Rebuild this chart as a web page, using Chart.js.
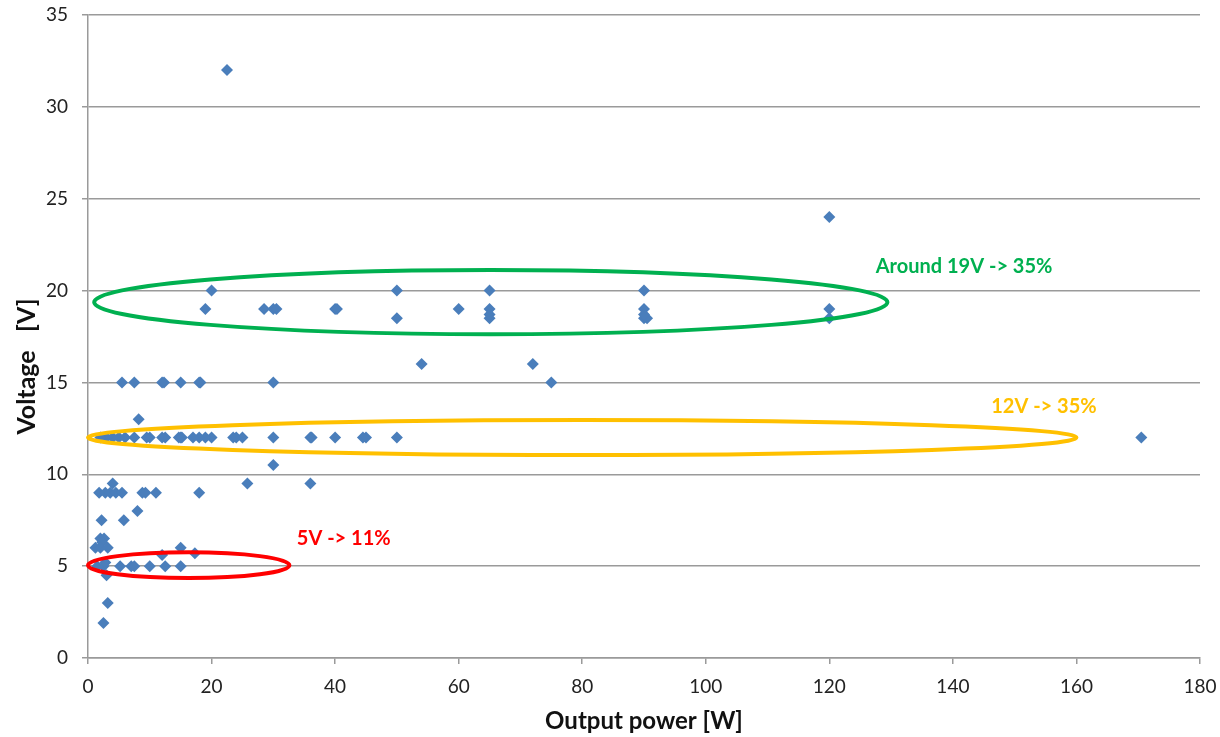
<!DOCTYPE html>
<html>
<head>
<meta charset="utf-8">
<script src="https://cdn.jsdelivr.net/npm/chart.js@4/dist/chart.umd.min.js"></script>
<style>
  html, body { margin: 0; padding: 0; background: #fff; }
  #wrap { width: 1220px; height: 737px; }
</style>
</head>
<body>
<div id="wrap"><canvas id="myChart" width="1220" height="737"></canvas></div>
<script>
// # Data: output power [W] and voltage [V]
const power = [
  22.5, 120, 170.5,
  20, 50, 65, 90,
  19, 28.5, 30, 30.5, 40, 40.3, 60, 65, 90, 120,
  50, 65, 65, 90, 90.5, 90, 120,
  54, 72,
  75, 5.5, 7.5, 12, 12.3, 15, 18, 18.2, 30,
  8.2,
  50, 45, 44.5, 40, 36, 36.2, 30, 25, 24, 23.5, 20, 19, 18, 17, 15, 14.7, 15.2, 12.5, 12, 10, 9.5, 7.5, 6, 5, 4, 3, 2,
  30,
  25.8, 36, 4,
  1.8, 2.8, 3.6, 4.5, 5.5, 8.8, 9.3, 11, 18,
  8,
  2.2, 5.8,
  2, 2.6, 2.3,
  1.2, 2, 3.2, 15,
  12, 17.3,
  1.5, 2.5, 5.2, 7, 7.5, 10, 12.5, 15, 2.8,
  3, 3.2, 2.5
];
const voltage = [
  32, 24, 12,
  20, 20, 20, 20,
  19, 19, 19, 19, 19, 19, 19, 19, 19, 19,
  18.5, 18.5, 18.7, 18.5, 18.5, 18.7, 18.5,
  16, 16,
  15, 15, 15, 15, 15, 15, 15, 15, 15,
  13,
  12, 12, 12, 12, 12, 12, 12, 12, 12, 12, 12, 12, 12, 12, 12, 12, 12, 12, 12, 12, 12, 12, 12, 12, 12, 12, 12,
  10.5,
  9.5, 9.5, 9.5,
  9, 9, 9, 9, 9, 9, 9, 9, 9,
  8,
  7.5, 7.5,
  6.5, 6.5, 6.3,
  6, 6, 6, 6,
  5.6, 5.7,
  5, 5, 5, 5, 5, 5, 5, 5, 5.2,
  4.5, 3, 1.9
];

// # Highlighted groups (ellipse in data units) and their labels
const groupLabels = ["Around 19V -> 35%", "12V -> 35%", "5V -> 11%"];
const groupColors = ["#00B050", "#FFC000", "#FF0000"];
const groupEllipses = [
  { cx: 65.2, cy: 19.37, rx: 64.2, ry: 1.75 },
  { cx: 80, cy: 12.0, rx: 80, ry: 0.95 },
  { cx: 16.3, cy: 5.05, rx: 16.3, ry: 0.7 }
];
const groupTextAt = [
  { x: 127.5, y: 21.3 },
  { x: 146.2, y: 13.7 },
  { x: 33.8, y: 6.5 }
];

const yTitle = "Voltage   [V]";

const points = power.map((p, i) => ({ x: p, y: voltage[i] }));

// # Draw the ellipses and the percentages on top of the points
const groupsPlugin = {
  id: "groups",
  afterDatasetsDraw(chart) {
    const ctx = chart.ctx;
    const xs = chart.scales.x;
    const ys = chart.scales.y;
    ctx.save();
    groupEllipses.forEach((e, i) => {
      const cx = xs.getPixelForValue(e.cx);
      const cy = ys.getPixelForValue(e.cy);
      const rx = Math.abs(xs.getPixelForValue(e.cx + e.rx) - cx);
      const ry = Math.abs(ys.getPixelForValue(e.cy + e.ry) - cy);
      ctx.beginPath();
      ctx.ellipse(cx, cy, rx, ry, 0, 0, Math.PI * 2);
      ctx.strokeStyle = groupColors[i];
      ctx.lineWidth = 4;
      ctx.stroke();

      ctx.fillStyle = groupColors[i];
      ctx.font = "bold 20px Lato, 'Open Sans', sans-serif";
      ctx.textBaseline = "middle";
      ctx.textAlign = "left";
      ctx.fillText(groupLabels[i], xs.getPixelForValue(groupTextAt[i].x), ys.getPixelForValue(groupTextAt[i].y));
    });
    ctx.restore();
  }
};

// # The y title sits a bit below the middle of the axis, as in the original
const yTitlePlugin = {
  id: "yTitle",
  afterDraw(chart) {
    const ctx = chart.ctx;
    const area = chart.chartArea;
    ctx.save();
    ctx.translate(27, (area.top + area.bottom) / 2 + 30);
    ctx.rotate(-Math.PI / 2);
    ctx.font = "bold 25px Lato, 'Open Sans', sans-serif";
    ctx.fillStyle = "#111";
    ctx.textAlign = "center";
    ctx.textBaseline = "middle";
    ctx.fillText(yTitle, 0, 0);
    ctx.restore();
  }
};

const chart = document.getElementById("myChart");

new Chart(chart, {
  type: "scatter",
  data: {
    datasets: [
      {
        label: "Voltage",
        data: points,
        pointStyle: "rectRot",
        pointRadius: 6,
        pointBorderWidth: 0,
        backgroundColor: "#4A7EBB",
        borderColor: "#4A7EBB",
      },
    ],
  },
  options: {
    responsive: false,
    animation: false,
    layout: { padding: { top: 15, right: 20, left: 0, bottom: 0 } },
    plugins: {
      legend: { display: false },
      tooltip: { enabled: false },
    },
    scales: {
      x: {
        type: "linear",
        min: 0,
        max: 180,
        ticks: { stepSize: 20, color: "#222", padding: 11, font: { family: "Lato", size: 19 } },
        grid: { display: true, drawOnChartArea: false, drawTicks: true, tickLength: 6, color: "#9a9a9a", lineWidth: 1.5 },
        border: { color: "#9a9a9a", width: 1.5 },
        title: {
          display: true,
          text: "Output power [W]",
          color: "#111",
          font: { family: "Lato", size: 24, weight: "bold" },
          padding: { top: 1, bottom: 1 },
        },
        afterFit: (s) => {
          s.height = 79;
          s.paddingLeft = 0;
          s.paddingRight = 0;
        },
      },
      y: {
        type: "linear",
        min: 0,
        max: 35,
        ticks: { stepSize: 5, color: "#222", padding: 14, font: { family: "Lato", size: 19 } },
        grid: { color: "#9a9a9a", lineWidth: 1.5, drawTicks: true, tickLength: 6 },
        border: { color: "#9a9a9a", width: 1.5 },
        title: { display: false },
        afterFit: (s) => {
          s.width = 88;
          s.paddingTop = 0;
          s.paddingBottom = 0;
        },
      },
    },
  },
  plugins: [groupsPlugin, yTitlePlugin],
});
</script>
</body>
</html>
